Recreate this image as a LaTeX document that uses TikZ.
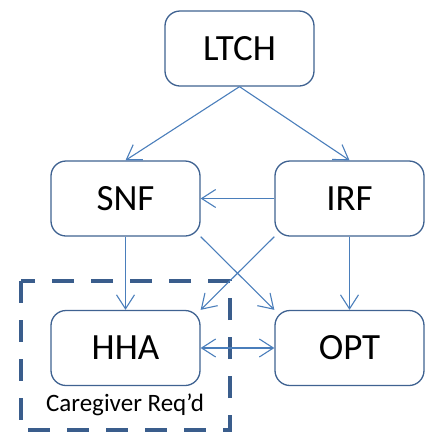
\documentclass[tikz,border=0pt]{standalone}
\usepackage{fontspec}
\setmainfont{Carlito}
\usetikzlibrary{arrows.meta}
\definecolor{boxc}{HTML}{3F6291}
\definecolor{arrc}{HTML}{4A7EBB}
\definecolor{dashc}{HTML}{3A5D8C}
\tikzset{
  unit/.style={draw=boxc, line width=1.3pt, rounded corners=15pt, minimum width=149pt, minimum height=75pt, inner sep=0pt, font=\fontsize{37}{40}\selectfont},
  tip/.style={Straight Barb[length=14pt,width=18pt,line width=1.1pt]},
  conn/.style={draw=arrc, line width=1.1pt, -{Straight Barb[length=14pt,width=18pt,line width=1.1pt]}},
  dconn/.style={draw=arrc, line width=1.1pt, {Straight Barb[length=14pt,width=18pt,line width=1.1pt]}-{Straight Barb[length=14pt,width=18pt,line width=1.1pt]}},
  groupbox/.style={draw=dashc, line width=4pt, dash pattern=on 22pt off 17pt}
}
\begin{document}
\begin{tikzpicture}[x=1pt,y=-1pt]
\useasboundingbox (0,0) rectangle (427,432);
\node[unit] (ltch) at (239.5,48.5) {LTCH};
\node[unit] (snf) at (125.5,198.5) {SNF};
\node[unit] (irf) at (349.5,198.5) {IRF};
\node[unit] (hha) at (125.5,348) {HHA};
\node[unit] (opt) at (349.5,348) {OPT};
\draw[groupbox] (21,281) rectangle (230,430);
\node[font=\fontsize{25}{28}\selectfont] (cg) at (125,405) {Caregiver Req’d};
\draw[conn] (ltch.south) -- (snf.north);
\draw[conn] (ltch.south) -- (irf.north);
\draw[conn] (irf.west) -- (snf.east);
\draw[conn] (snf.south) -- (hha.north);
\draw[conn] (irf.south) -- (opt.north);
\draw[conn] (snf.south east) -- (opt.north west);
\draw[conn] (irf.south west) -- (hha.north east);
\draw[dconn] (hha.east) -- (opt.west);
\end{tikzpicture}
\end{document}
